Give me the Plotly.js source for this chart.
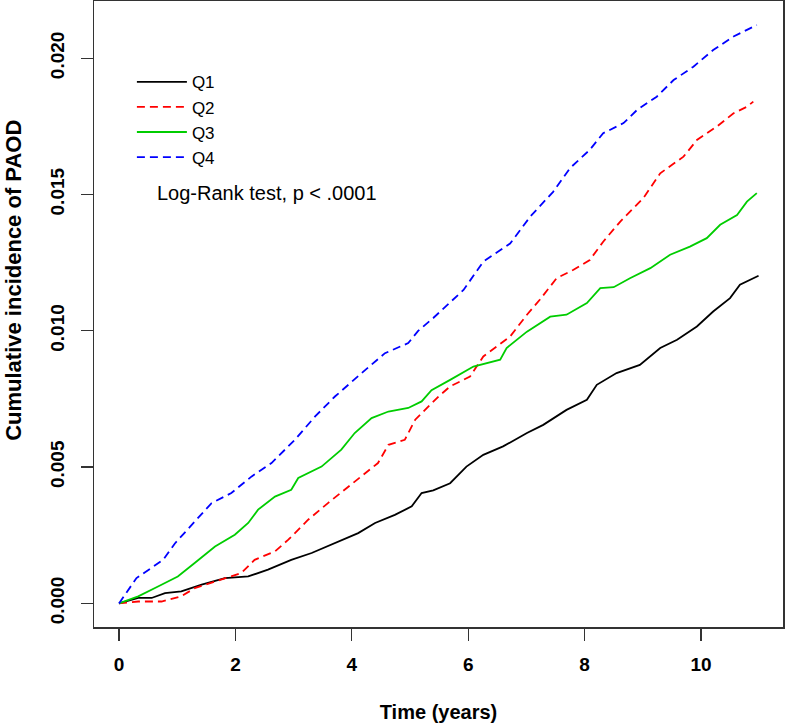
<!DOCTYPE html>
<html>
<head>
<meta charset="utf-8">
<script src="https://cdn.plot.ly/plotly-3.0.1.min.js"></script>
<style>html,body{margin:0;padding:0;background:#fff;}#chart{width:785px;height:726px;}</style>
</head>
<body>
<div id="chart"></div>
<script>
// Time (years) and cumulative incidence for each quartile
const q1Time = [0, 0.33, 0.56, 0.79, 1.07, 1.42, 1.82, 2.22, 2.56, 2.96, 3.31, 3.71, 4.11, 4.40, 4.74, 5.03, 5.20, 5.40, 5.69, 5.97, 6.26, 6.60, 7.01, 7.29, 7.69, 8.04, 8.21, 8.55, 8.95, 9.30, 9.59, 9.93, 10.21, 10.50, 10.67, 10.99];
const q1Value = [0, 0.0002, 0.0002, 0.00038, 0.00044, 0.00069, 0.00093, 0.00099, 0.00124, 0.0016, 0.00185, 0.00221, 0.00258, 0.00295, 0.00325, 0.00356, 0.00405, 0.00415, 0.00441, 0.00502, 0.00545, 0.00576, 0.00625, 0.00655, 0.0071, 0.00747, 0.00802, 0.00845, 0.00875, 0.00937, 0.00967, 0.01016, 0.01071, 0.0112, 0.01169, 0.01202];

const q2Time = [0, 0.33, 0.73, 1.07, 1.30, 1.76, 2.10, 2.33, 2.68, 2.91, 3.25, 3.59, 3.94, 4.17, 4.45, 4.63, 4.91, 5.09, 5.31, 5.49, 5.69, 6.03, 6.26, 6.72, 7.01, 7.23, 7.52, 7.81, 8.09, 8.32, 8.61, 9.01, 9.30, 9.70, 9.93, 10.27, 10.56, 10.79, 10.90];
const q2Value = [0, 0.00007, 0.00007, 0.00026, 0.00056, 0.00087, 0.00111, 0.0016, 0.00191, 0.00234, 0.00307, 0.00368, 0.00429, 0.00466, 0.00515, 0.00582, 0.0060, 0.00674, 0.00722, 0.00759, 0.00796, 0.00832, 0.00906, 0.00979, 0.01059, 0.01114, 0.01193, 0.01224, 0.0126, 0.01327, 0.014, 0.01487, 0.01578, 0.01639, 0.017, 0.01749, 0.01798, 0.01822, 0.01841];

const q3Time = [0, 0.33, 0.67, 1.01, 1.30, 1.65, 1.99, 2.22, 2.39, 2.68, 2.96, 3.08, 3.48, 3.82, 4.05, 4.34, 4.63, 4.97, 5.20, 5.37, 5.69, 6.09, 6.55, 6.66, 7.01, 7.41, 7.69, 8.04, 8.27, 8.50, 8.78, 9.13, 9.47, 9.81, 10.10, 10.33, 10.62, 10.79, 10.96];
const q3Value = [0, 0.00026, 0.00062, 0.00099, 0.00148, 0.00209, 0.00252, 0.00295, 0.00344, 0.00392, 0.00417, 0.0046, 0.00502, 0.00564, 0.00625, 0.0068, 0.00704, 0.00717, 0.00741, 0.00782, 0.0082, 0.00869, 0.00894, 0.00937, 0.00997, 0.01052, 0.01059, 0.01102, 0.01157, 0.0116, 0.01193, 0.0123, 0.01279, 0.01309, 0.0134, 0.01389, 0.01425, 0.01474, 0.01505];

const q4Time = [0, 0.30, 0.76, 0.96, 1.30, 1.59, 1.93, 2.28, 2.62, 3.02, 3.37, 3.71, 4.17, 4.57, 4.97, 5.14, 5.40, 5.92, 6.26, 6.72, 7.07, 7.46, 7.75, 8.09, 8.32, 8.67, 8.90, 9.24, 9.53, 9.87, 10.21, 10.56, 10.79, 10.96];
const q4Value = [0, 0.00093, 0.0016, 0.0022, 0.0030, 0.00368, 0.00405, 0.00466, 0.00515, 0.0060, 0.00686, 0.00759, 0.00845, 0.00918, 0.00955, 0.0100, 0.01047, 0.0115, 0.01254, 0.0132, 0.0142, 0.0151, 0.01597, 0.01664, 0.01725, 0.01762, 0.0181, 0.01859, 0.0192, 0.01969, 0.0203, 0.0208, 0.02104, 0.02122];

const seriesNames = ["Q1", "Q2", "Q3", "Q4"];
const xTicks = [0, 2, 4, 6, 8, 10];
const xTickLabels = ["0", "2", "4", "6", "8", "10"];
const yTicks = [0, 0.005, 0.010, 0.015, 0.020];
const yTickLabels = ["0.000", "0.005", "0.010", "0.015", "0.020"];
const xTitle = "Time (years)";
const yTitle = "Cumulative incidence of PAOD";
const testLabel = "Log-Rank test, p < .0001";

const styles = [
  {color: "#000000", dash: "solid"},
  {color: "#FF0000", dash: "8px,5px"},
  {color: "#00CD00", dash: "solid"},
  {color: "#0000FF", dash: "8px,5px"}
];
const xs = [q1Time, q2Time, q3Time, q4Time];
const ys = [q1Value, q2Value, q3Value, q4Value];

const traces = seriesNames.map((n, i) => ({
  x: xs[i], y: ys[i], name: n, type: "scatter", mode: "lines",
  line: {color: styles[i].color, dash: styles[i].dash, width: 1.8}
}));

const FAMILY = "Liberation Sans, Arial, sans-serif";
const tickFont = {family: FAMILY, size: 19, color: "#000", weight: "bold"};

const layout = {
  width: 785, height: 726,
  margin: {l: 94, r: 2, t: 1, b: 99, pad: 0},
  paper_bgcolor: "#fff", plot_bgcolor: "#fff",
  showlegend: true,
  xaxis: {
    range: [-0.43, 11.41], tickvals: xTicks, ticktext: xTickLabels,
    ticks: "outside", ticklen: 12, tickwidth: 1.3, tickcolor: "#333",
    ticklabelstandoff: 8,
    showline: true, mirror: true, linecolor: "#333", linewidth: 1.5,
    showgrid: false, zeroline: false, tickfont: tickFont,
    title: {text: xTitle, font: {family: FAMILY, size: 20, color: "#000", weight: "bold"}, standoff: 30},
    automargin: false
  },
  yaxis: {
    range: [-0.000865, 0.0221], tickvals: yTicks, ticktext: yTickLabels,
    ticks: "outside", ticklen: 12, tickwidth: 1.3, tickcolor: "#333",
    tickangle: -90, ticklabelstandoff: 9,
    showline: true, mirror: true, linecolor: "#333", linewidth: 1.5,
    showgrid: false, zeroline: false, tickfont: tickFont,
    automargin: false
  },
  legend: {
    x: 0.055, y: 0.899, xanchor: "left", yanchor: "top",
    bgcolor: "rgba(0,0,0,0)", borderwidth: 0, itemwidth: 50,
    font: {family: FAMILY, size: 17, color: "#000"},
    tracegroupgap: 0
  },
  annotations: [
    {
      xref: "paper", yref: "paper", x: 0.088, y: 0.6934,
      xanchor: "left", yanchor: "middle", showarrow: false,
      text: testLabel,
      font: {family: FAMILY, size: 20, color: "#000"}
    },
    {
      xref: "paper", yref: "paper", x: -0.1161, y: 0.553,
      xanchor: "center", yanchor: "middle", showarrow: false,
      textangle: -90, text: yTitle,
      font: {family: FAMILY, size: 22, color: "#000", weight: "bold"}
    }
  ]
};

Plotly.newPlot("chart", traces, layout, {displayModeBar: false, staticPlot: true});
</script>
</body>
</html>
